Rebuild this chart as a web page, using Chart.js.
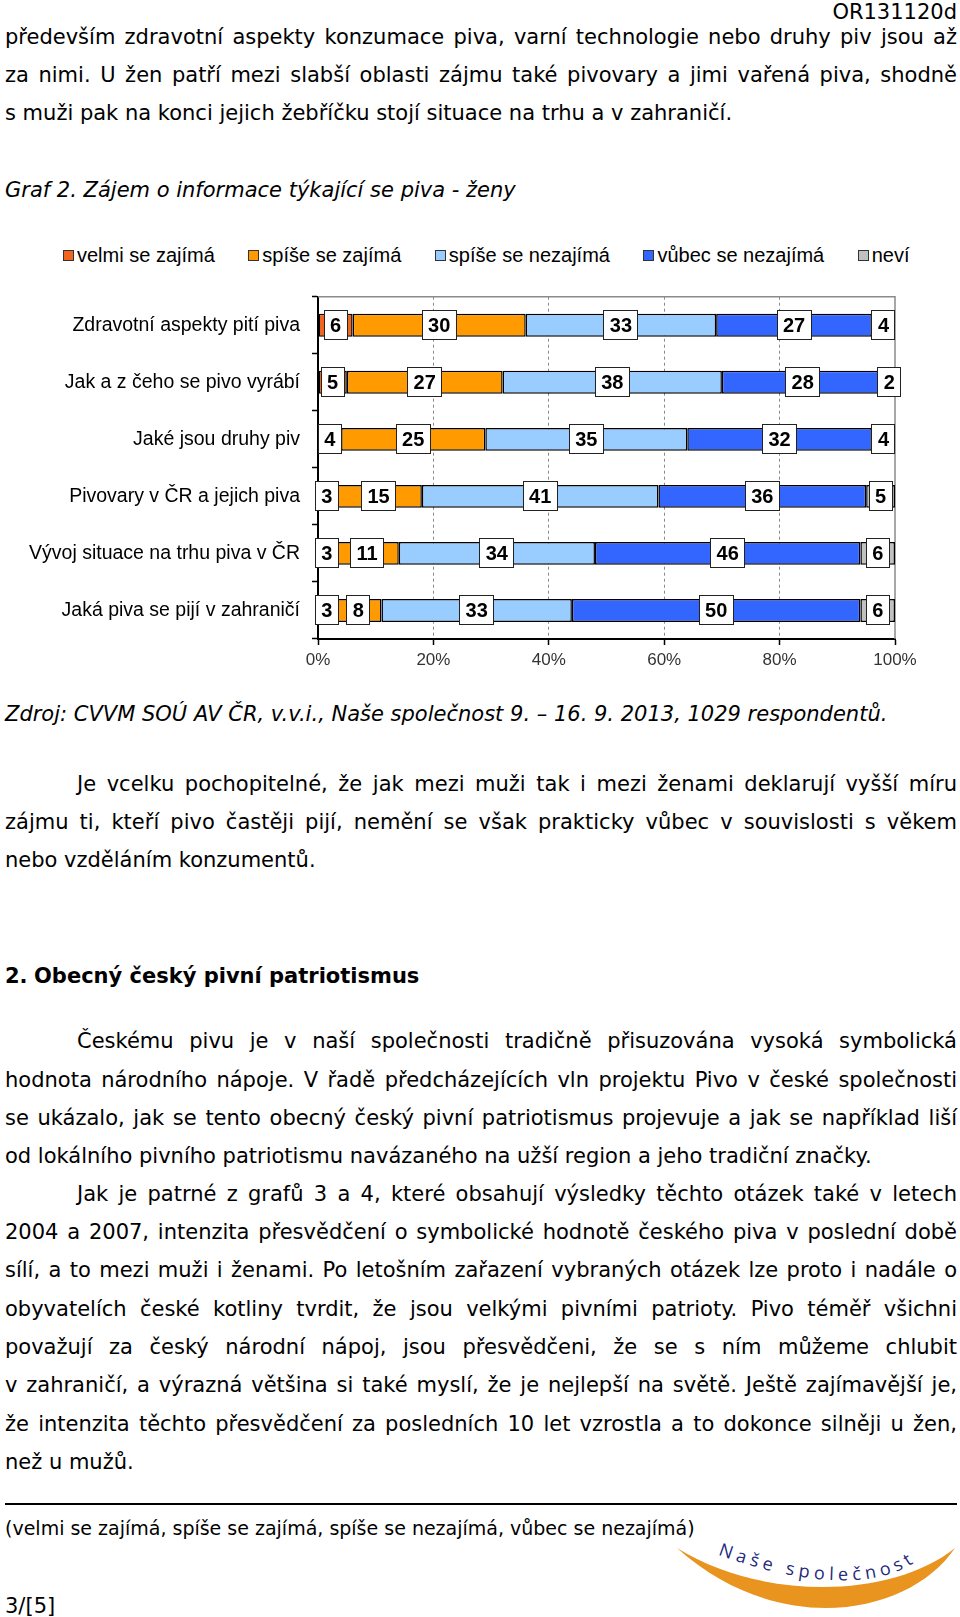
<!DOCTYPE html>
<html lang="cs">
<head>
<meta charset="utf-8">
<title>Graf 2. Zájem o informace týkající se piva - ženy</title>
<script src="https://cdn.jsdelivr.net/npm/chart.js@4.4.1/dist/chart.umd.min.js"></script>
<style>
  html, body { margin: 0; padding: 0; background: #fff; }
  #page {
    position: relative; width: 960px; height: 1617px; overflow: hidden;
    font-family: "DejaVu Sans", Verdana, sans-serif; font-size: 21px; color: #000;
  }
  .ln { position: absolute; left: 5px; width: 952px; height: 38px; line-height: 38px; margin-top: 2px; white-space: nowrap; }
  .j { text-align: justify; text-align-last: justify; white-space: normal; }
  .ind { left: 77px; width: 880px; }
  .it { font-style: italic; }
  #code { position: absolute; right: 3px; top: -7px; line-height: 38px; }
  #heading { font-weight: bold; margin-top: 3px; }
  #heading span { position: absolute; left: 29px; }
  #rule { position: absolute; left: 5px; width: 952px; top: 1503px; height: 0; border-top: 2px solid #000; }
  #foot { font-size: 19px; }
  #legend {
    position: absolute; left: 63px; top: 243px; height: 24px; display: flex; gap: 33.5px;
    font-family: "Liberation Sans", Arial, sans-serif; font-size: 20px; line-height: 24px;
  }
  #legend .item { display: flex; align-items: center; }
  #legend .box { width: 9px; height: 9px; border: 1px solid #333; margin-right: 3px; }
  #chartBox { position: absolute; left: 0; top: 273px; width: 960px; height: 407px; }
  #logo { position: absolute; left: 660px; top: 1490px; width: 300px; height: 127px; }
</style>
</head>
<body>
<div id="page">
  <div id="code">OR131120d</div>
  <div class="ln j" style="top:16px">především zdravotní aspekty konzumace piva, varní technologie nebo druhy piv jsou až</div>
  <div class="ln j" style="top:54px">za nimi. U žen patří mezi slabší oblasti zájmu také pivovary a jimi vařená piva, shodně</div>
  <div class="ln" style="top:92px">s muži pak na konci jejich žebříčku stojí situace na trhu a v zahraničí.</div>

  <div class="ln it" style="top:169px">Graf 2. Zájem o informace týkající se piva - ženy</div>

  <div id="legend"></div>
  <div id="chartBox"><canvas id="chart"></canvas></div>

  <div class="ln it" style="top:693px">Zdroj: CVVM SOÚ AV ČR, v.v.i., Naše společnost 9. – 16. 9. 2013, 1029 respondentů.</div>

  <div class="ln j ind" style="top:763px">Je vcelku pochopitelné, že jak mezi muži tak i mezi ženami deklarují vyšší míru</div>
  <div class="ln j" style="top:801px">zájmu ti, kteří pivo častěji pijí, nemění se však prakticky vůbec v souvislosti s věkem</div>
  <div class="ln" style="top:839px">nebo vzděláním konzumentů.</div>

  <div class="ln" id="heading" style="top:954px">2.<span>Obecný český pivní patriotismus</span></div>

  <div class="ln j ind" style="top:1020px">Českému pivu je v naší společnosti tradičně přisuzována vysoká symbolická</div>
  <div class="ln j" style="top:1059px">hodnota národního nápoje. V řadě předcházejících vln projektu Pivo v české společnosti</div>
  <div class="ln j" style="top:1097px">se ukázalo, jak se tento obecný český pivní patriotismus projevuje a jak se například liší</div>
  <div class="ln" style="top:1135px">od lokálního pivního patriotismu navázaného na užší region a jeho tradiční značky.</div>

  <div class="ln j ind" style="top:1173px">Jak je patrné z grafů 3 a 4, které obsahují výsledky těchto otázek také v letech</div>
  <div class="ln j" style="top:1211px">2004 a 2007, intenzita přesvědčení o symbolické hodnotě českého piva v poslední době</div>
  <div class="ln j" style="top:1249px">sílí, a to mezi muži i ženami. Po letošním zařazení vybraných otázek lze proto i nadále o</div>
  <div class="ln j" style="top:1288px">obyvatelích české kotliny tvrdit, že jsou velkými pivními patrioty. Pivo téměř všichni</div>
  <div class="ln j" style="top:1326px">považují za český národní nápoj, jsou přesvědčeni, že se s ním můžeme chlubit</div>
  <div class="ln j" style="top:1364px">v zahraničí, a výrazná většina si také myslí, že je nejlepší na světě. Ještě zajímavější je,</div>
  <div class="ln j" style="top:1403px">že intenzita těchto přesvědčení za posledních 10 let vzrostla a to dokonce silněji u žen,</div>
  <div class="ln" style="top:1441px">než u mužů.</div>

  <div id="rule"></div>
  <div class="ln" id="foot" style="top:1507px">(velmi se zajímá, spíše se zajímá, spíše se nezajímá, vůbec se nezajímá)</div>
  <div class="ln" style="top:1585px">3/[5]</div>

  <svg id="logo" viewBox="0 0 300 127">
    <path d="M17,58 C100,110 230,110 295,58 C250,125 120,150 17,58 Z" fill="#E8941F"/>
    <path id="arc" d="M56,64 C130,92 230,108 270,58" fill="none"/>
    <text font-family="'Open Sans', sans-serif" font-size="18" fill="#1F2A7C" letter-spacing="4.6">
      <textPath href="#arc" startOffset="2">Naše společnost</textPath>
    </text>
  </svg>
</div>

<script>
  // categories (top to bottom) and series, in %
  const categories = [
    "Zdravotní aspekty pití piva",
    "Jak a z čeho se pivo vyrábí",
    "Jaké jsou druhy piv",
    "Pivovary v ČR a jejich piva",
    "Vývoj situace na trhu piva v ČR",
    "Jaká piva se pijí v zahraničí"
  ];
  const seriesNames = ["velmi se zajímá", "spíše se zajímá", "spíše se nezajímá", "vůbec se nezajímá", "neví"];
  const seriesColors = ["#F0661F", "#FF9A00", "#99CCFF", "#3366FF", "#C0C0C0"];

  const velmiSeZajima = [6, 5, 4, 3, 3, 3];
  const spiseSeZajima = [30, 27, 25, 15, 11, 8];
  const spiseSeNezajima = [33, 38, 35, 41, 34, 33];
  const vubecSeNezajima = [27, 28, 32, 36, 46, 50];
  const nevi = [4, 2, 4, 5, 6, 6];

  const xTicks = [0, 20, 40, 60, 80, 100];

  const seriesValues = [velmiSeZajima, spiseSeZajima, spiseSeNezajima, vubecSeNezajima, nevi];

  // legend (html, same look as the original office chart)
  const legendEl = document.getElementById("legend");
  seriesNames.forEach((name, i) => {
    const item = document.createElement("div");
    item.className = "item";
    const box = document.createElement("span");
    box.className = "box";
    box.style.background = seriesColors[i];
    item.appendChild(box);
    item.appendChild(document.createTextNode(name));
    legendEl.appendChild(item);
  });

  // grey frame on top and right of the plot area
  const plotFrame = {
    id: "plotFrame",
    beforeDatasetsDraw(chart) {
      const { ctx, chartArea: a } = chart;
      ctx.save();
      ctx.strokeStyle = "#8a8a8a";
      ctx.lineWidth = 1.5;
      ctx.beginPath();
      ctx.moveTo(a.left, a.top);
      ctx.lineTo(a.right, a.top);
      ctx.lineTo(a.right, a.bottom);
      ctx.stroke();
      ctx.restore();
    }
  };

  // white boxed value labels in the middle of each segment
  const boxLabels = {
    id: "boxLabels",
    afterDatasetsDraw(chart) {
      const ctx = chart.ctx;
      ctx.save();
      ctx.font = "bold 20px 'Liberation Sans', Arial, sans-serif";
      ctx.textAlign = "center";
      ctx.textBaseline = "middle";
      chart.data.datasets.forEach((ds, i) => {
        chart.getDatasetMeta(i).data.forEach((bar, j) => {
          const text = String(ds.data[j]);
          const cx = (bar.x + bar.base) / 2;
          const cy = bar.y;
          const w = Math.round(ctx.measureText(text).width + 13);
          const h = 30;
          const x0 = Math.round(cx - w / 2);
          const y0 = Math.round(cy - h / 2);
          ctx.fillStyle = "#fff";
          ctx.fillRect(x0, y0, w, h);
          ctx.strokeStyle = "#222";
          ctx.lineWidth = 1;
          ctx.strokeRect(x0 + 0.5, y0 + 0.5, w - 1, h - 1);
          ctx.fillStyle = "#000";
          ctx.fillText(text, cx, cy + 1);
        });
      });
      ctx.restore();
    }
  };

  new Chart(document.getElementById("chart"), {
    type: "bar",
    data: {
      labels: categories,
      datasets: seriesValues.map((values, i) => ({
        label: seriesNames[i],
        data: values,
        backgroundColor: seriesColors[i],
        borderColor: "#000",
        borderWidth: 1.5,
        borderSkipped: false,
        barPercentage: 0.4,
        categoryPercentage: 1
      }))
    },
    options: {
      indexAxis: "y",
      responsive: true,
      maintainAspectRatio: false,
      animation: false,
      layout: { padding: { top: 0, right: 65, bottom: 1, left: 0 } },
      plugins: {
        legend: { display: false },
        tooltip: { enabled: false }
      },
      scales: {
        x: {
          stacked: true,
          min: 0,
          max: 100,
          afterBuildTicks: (scale) => { scale.ticks = xTicks.map((v) => ({ value: v })); },
          afterFit: (scale) => { scale.height = 40; },
          grid: {
            color: (c) => (c.tick && c.tick.value > 0 && c.tick.value < 100 ? "#8a8a8a" : "rgba(0,0,0,0)"),
            lineWidth: 1,
            tickColor: "#000",
            tickLength: 6,
            tickWidth: 1.5
          },
          border: { display: true, color: "#000", width: 2, dash: [3, 3] },
          ticks: {
            padding: 5,
            color: "#333",
            font: { family: "'Liberation Sans', Arial, sans-serif", size: 17 },
            callback: (v) => v + "%"
          }
        },
        y: {
          stacked: true,
          afterFit: (scale) => { scale.width = 318; },
          grid: {
            drawOnChartArea: false,
            drawTicks: true,
            tickLength: 6,
            tickColor: "#000",
            tickWidth: 1.5
          },
          border: { display: true, color: "#000", width: 2 },
          ticks: {
            padding: 12,
            color: "#000",
            autoSkip: false,
            font: { family: "'Liberation Sans', Arial, sans-serif", size: 19.5 }
          }
        }
      }
    },
    plugins: [plotFrame, boxLabels]
  });
</script>
</body>
</html>
